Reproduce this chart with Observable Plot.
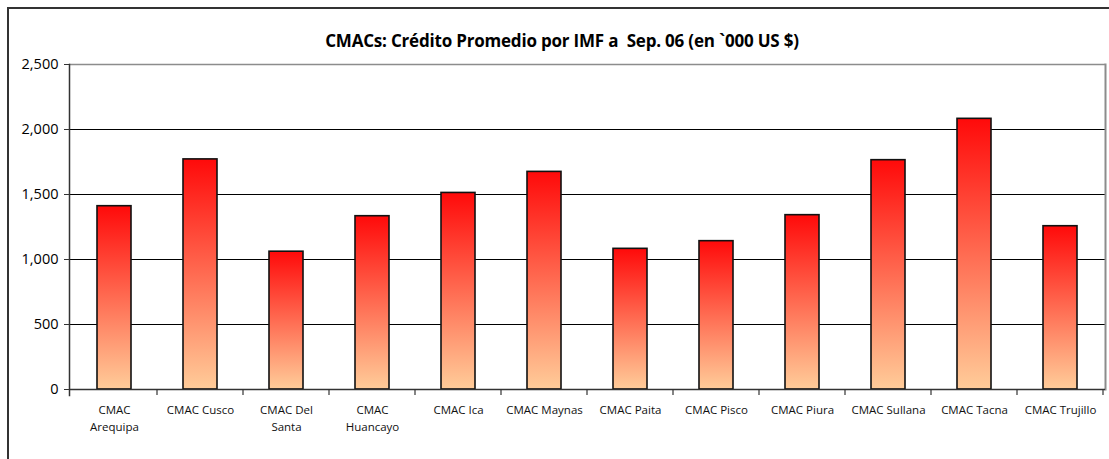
<!DOCTYPE html>
<html>
<head>
<meta charset="utf-8">
<script src="https://cdn.jsdelivr.net/npm/d3@7"></script>
<script src="https://cdn.jsdelivr.net/npm/@observablehq/plot@0.6"></script>
<style>
  html, body { margin: 0; padding: 0; background: #fff; overflow: hidden; }
  #wrap { position: relative; width: 1109px; height: 459px; overflow: hidden; }
  #border { position: absolute; left: 7px; top: 7px; width: 1200px; height: 600px; border: 2px solid #333; box-sizing: border-box; }
  #title { position: absolute; left: 8px; width: 1108px; top: 30px; text-align: center;
           font-family: "Open Sans", sans-serif; font-weight: bold; font-size: 17px; color: #000; line-height: 22px; letter-spacing: -0.2px; }
  #chart { position: absolute; left: 0; top: 0; }
</style>
</head>
<body>
<div id="wrap">
  <div id="border"></div>
  <div id="chart"></div>
  <div id="title">CMACs: Crédito Promedio por IMF a&nbsp; Sep. 06 (en `000 US $)</div>
</div>
<script>
const categories = ["CMAC Arequipa", "CMAC Cusco", "CMAC Del Santa", "CMAC Huancayo", "CMAC Ica", "CMAC Maynas",
  "CMAC Paita", "CMAC Pisco", "CMAC Piura", "CMAC Sullana", "CMAC Tacna", "CMAC Trujillo"];
const xLabels = ["CMAC\nArequipa", "CMAC Cusco", "CMAC Del\nSanta", "CMAC\nHuancayo", "CMAC Ica", "CMAC Maynas",
  "CMAC Paita", "CMAC Pisco", "CMAC Piura", "CMAC Sullana", "CMAC Tacna", "CMAC Trujillo"];
const values = [1410, 1770, 1060, 1333, 1512, 1674, 1082, 1141, 1341, 1764, 2082, 1256];
const yTicks = [0, 500, 1000, 1500, 2000, 2500];

const data = categories.map((c, i) => ({name: c, value: values[i]}));
const labelOf = new Map(categories.map((c, i) => [c, xLabels[i]]));

const plot = Plot.plot({
  width: 1109,
  height: 459,
  marginTop: 64,
  marginBottom: 70,
  marginLeft: 69,
  marginRight: 4,
  style: {fontFamily: "Open Sans, sans-serif", background: "transparent", color: "#000"},
  x: {domain: categories, paddingInner: 0.6, paddingOuter: 0.3, axis: null, label: null},
  y: {domain: [0, 2500], axis: null, label: null},
  marks: [
    Plot.gridY(yTicks.filter(v => v > 0 && v < 2500), {stroke: "#000", strokeOpacity: 1, strokeWidth: 1}),
    Plot.ruleY([2500], {stroke: "#8c8c8c", strokeWidth: 1.5}),
    Plot.frame({anchor: "right", stroke: "#8c8c8c", strokeWidth: 2}),
    Plot.barY(data, {x: "name", y: "value", fill: "url(#barGrad)", stroke: "#111", strokeWidth: 1.6}),
    Plot.frame({anchor: "left", stroke: "#333", strokeWidth: 1.5, insetBottom: -6}),
    Plot.ruleY([0], {stroke: "#333", strokeWidth: 1.5}),
    Plot.axisY({ticks: yTicks, tickFormat: d3.format(","), tickSize: 5, tickPadding: 6, fontSize: 14.5, stroke: "#333", label: null}),
    Plot.axisX({tickSize: 0, tickPadding: 12, fontSize: 11.5, lineHeight: 1.5, tickFormat: d => labelOf.get(d), fill: "#111", label: null})
  ]
});

document.getElementById("chart").appendChild(plot);

// gradient definition for bars
const svg = d3.select(plot);
const grad = svg.insert("defs", ":first-child").append("linearGradient")
  .attr("id", "barGrad").attr("x1", 0).attr("y1", 0).attr("x2", 0).attr("y2", 1);
grad.append("stop").attr("offset", "0%").attr("stop-color", "#ff0a0a");
grad.append("stop").attr("offset", "100%").attr("stop-color", "#ffcc99");

// category boundary ticks on the x axis, from the plot's own band scale
const xs = plot.scale("x");
const ys = plot.scale("y");
const y0 = ys.apply(0);
const bounds = categories.map(c => xs.apply(c) + xs.bandwidth / 2 - xs.step / 2);
bounds.push(xs.apply(categories[categories.length - 1]) + xs.bandwidth / 2 + xs.step / 2);
svg.append("g").attr("stroke", "#333").attr("stroke-width", 1.2)
  .selectAll("line").data(bounds.slice(1)).join("line")
  .attr("x1", d => d).attr("x2", d => d).attr("y1", y0).attr("y2", y0 + 6);
</script>
</body>
</html>
